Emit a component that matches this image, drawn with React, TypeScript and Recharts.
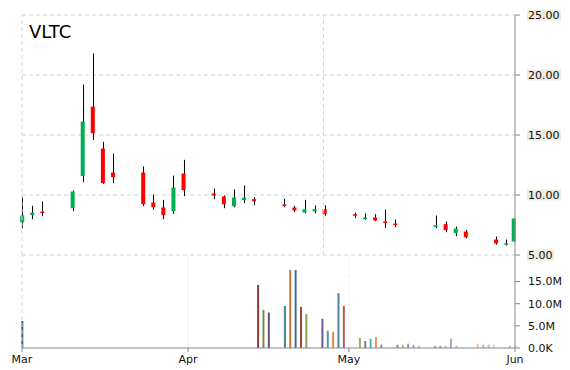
import React from "react";
import { Bar, BarChart, CartesianGrid, Cell, ComposedChart, ReferenceLine, XAxis, YAxis } from "recharts";

// price panel: one slot per session, gaps are weekends
const slots = [0, 1, 2, 5, 6, 7, 8, 9, 12, 13, 14, 15, 16, 19, 20, 21, 22, 23, 26, 27, 28, 29, 30, 33, 34, 35, 36, 37, 41, 42, 43, 44, 47, 48, 48.75];
const opens = [7.73, 8.32, 8.62, 8.9, 11.57, 17.37, 13.87, 11.87, 11.87, 9.37, 8.96, 8.65, 11.79, 10.12, 9.88, 9.07, 9.57, 9.65, 9.22, 8.96, 8.54, 8.63, 8.82, 8.4, 8.08, 8.13, 7.79, 7.62, 7.32, 7.57, 6.82, 6.96, 6.29, 5.94, 6.12];
const highs = [9.82, 9.1, 9.46, 10.37, 19.21, 21.79, 14.43, 13.46, 12.37, 10.04, 9.6, 11.62, 12.93, 10.54, 9.96, 10.46, 10.79, 9.82, 9.68, 9.1, 9.6, 9.12, 9.15, 8.54, 8.46, 8.4, 8.79, 7.96, 8.29, 7.79, 7.37, 7.1, 6.54, 6.29, 8.04];
const lows = [7.23, 7.98, 8.23, 8.65, 11.07, 14.57, 10.93, 10.99, 9.07, 8.77, 7.98, 8.43, 9.9, 9.65, 8.9, 8.98, 9.32, 9.15, 8.98, 8.57, 8.48, 8.48, 8.27, 8.07, 7.93, 7.82, 7.23, 7.32, 7.23, 6.9, 6.57, 6.4, 5.87, 5.79, 6.12];
const closes = [8.29, 8.54, 8.58, 10.29, 16.12, 15.15, 10.99, 11.49, 9.23, 8.99, 8.32, 10.62, 10.4, 9.96, 9.23, 9.79, 9.78, 9.48, 9.18, 8.71, 8.82, 8.82, 8.4, 8.36, 8.12, 7.88, 7.75, 7.58, 7.48, 7.07, 7.21, 6.48, 5.96, 5.98, 8.04];
const priceTicks = [5, 10, 15, 20, 25];
const priceGridX = [0, 29.9];

// volume panel: calendar days from Mar 1
const volDays = [0, 44, 45, 46, 49, 50, 51, 52, 53, 56, 57, 58, 59, 60, 63, 64, 65, 66, 67, 70, 71, 72, 73, 74, 77, 78, 79, 80, 81, 85, 86, 87, 88, 91, 92];
const volumes = [6.1, 14.25, 8.6, 8.0, 9.5, 17.6, 17.6, 9.3, 7.7, 6.6, 3.9, 3.7, 12.4, 9.5, 2.3, 1.6, 2.1, 2.5, 0.75, 0.75, 0.75, 0.97, 0.75, 0.5, 0.5, 0.5, 0.5, 2.1, 0.5, 0.97, 0.75, 0.75, 0.75, 0.5, 0.5];
const volTicks = [0, 5e6, 10e6, 15e6];
const monthDays = [0, 31, 61, 92];
const monthNames = ["Mar", "Apr", "May", "Jun"];

const candles = slots.map((slot, i) => ({
  slot,
  open: opens[i],
  high: highs[i],
  low: lows[i],
  close: closes[i],
  range: [lows[i], highs[i]]
}));
const volData = volDays.map((day, i) => ({ day, vol: volumes[i] * 1e6 }));

const FONT = "'DejaVu Sans', Verdana, sans-serif";
const palette = ["#4572A7", "#AA4643", "#89A54E", "#71588F", "#4198AF", "#DB843D"];

function shade(hex: string, t: number) {
  const n = parseInt(hex.slice(1), 16);
  const ch = [(n >> 16) & 255, (n >> 8) & 255, n & 255].map((c) =>
    Math.round(t < 0 ? c * (1 + t) : c + (255 - c) * t)
  );
  return `rgb(${ch[0]},${ch[1]},${ch[2]})`;
}

function Candle(props: any) {
  const { x, y, width, height, payload } = props;
  const { open, close, high, low } = payload;
  const top = Math.min(y, y + height);
  const h = Math.abs(height);
  const py = (p: number) => top + ((high - p) / (high - low)) * h;
  const cx = x + width / 2;
  const up = close >= open;
  const bTop = py(Math.max(open, close));
  const bH = Math.max(py(Math.min(open, close)) - bTop, 1.5);
  const wx = Math.round(cx) + 0.5;
  return (
    <g>
      <line x1={wx} x2={wx} y1={py(high)} y2={py(low)} stroke="#000" strokeWidth={1} />
      <rect x={cx - 2} y={bTop} width={4} height={bH} fill={up ? "#00B050" : "#FF0000"} />
    </g>
  );
}

function PriceTick(props: any) {
  const { x, y, payload } = props;
  const label = payload.value.toFixed(2);
  return (
    <g>
      <rect x={x - 1} y={y - 5.5} width={label.length * 7 - 1} height={11} fill="#EEEBDF" />
      <text x={x} y={y} dy="0.36em" fontSize={11} fontFamily={FONT} fill="#111">
        {label}
      </text>
    </g>
  );
}

const fmtVol = (v: number) => (v === 0 ? "0.0K" : `${(v / 1e6).toFixed(1)}M`);

export default function App() {
  return (
    <div style={{ position: "absolute", left: 0, top: 0, width: 570, height: 370, background: "#fff" }}>
      <ComposedChart
        width={570}
        height={270}
        data={candles}
        margin={{ top: 15, right: 0, bottom: 15, left: 22 }}
        style={{ position: "absolute", left: 0, top: 0 }}
      >
        <CartesianGrid vertical={false} stroke="#d4d4d4" strokeDasharray="4 3" />
        {priceGridX.map((v) => (
          <ReferenceLine key={v} x={v} stroke="#d4d4d4" strokeDasharray="4 3" />
        ))}
        <XAxis type="number" dataKey="slot" domain={[0, 48.9]} hide />
        <YAxis
          orientation="right"
          width={55}
          domain={[5, 25]}
          ticks={priceTicks}
          stroke="#888"
          tickSize={5}
          tickMargin={8}
          tick={<PriceTick />}
        />
        <Bar dataKey="range" barSize={4} shape={<Candle />} isAnimationActive={false} />
      </ComposedChart>

      <BarChart
        width={570}
        height={115}
        data={volData}
        margin={{ top: 0, right: 0, bottom: 0, left: 22 }}
        style={{ position: "absolute", left: 0, top: 255 }}
      >
        <ReferenceLine x={0} stroke="#d4d4d4" strokeDasharray="4 3" />
        <ReferenceLine x={31} stroke="#f0f0f0" />
        <ReferenceLine x={61} stroke="#f0f0f0" strokeDasharray="4 3" />
        <XAxis
          type="number"
          dataKey="day"
          domain={[0, 92]}
          ticks={monthDays}
          tickFormatter={(v: number) => monthNames[monthDays.indexOf(v)]}
          height={22}
          stroke="#888"
          tickSize={4}
          tickMargin={3}
          tick={{ fontSize: 11, fontFamily: FONT, fill: "#111" }}
        />
        <YAxis
          orientation="right"
          width={55}
          domain={[0, 21e6]}
          ticks={volTicks}
          tickFormatter={fmtVol}
          stroke="#888"
          tickSize={5}
          tickMargin={8}
          tick={{ fontSize: 11, fontFamily: FONT, fill: "#111", textAnchor: "start" }}
        />
        <Bar dataKey="vol" barSize={2} isAnimationActive={false}>
          {volData.map((d, i) => (
            <Cell key={d.day} fill={shade(palette[i % 6], -0.2 + (0.8 * i) / (volData.length - 1))} />
          ))}
        </Bar>
      </BarChart>

      <div
        style={{
          position: "absolute",
          left: 29,
          top: 23,
          fontFamily: FONT,
          fontSize: 18,
          lineHeight: "18px",
          color: "#000"
        }}
      >
        VLTC
      </div>
    </div>
  );
}
